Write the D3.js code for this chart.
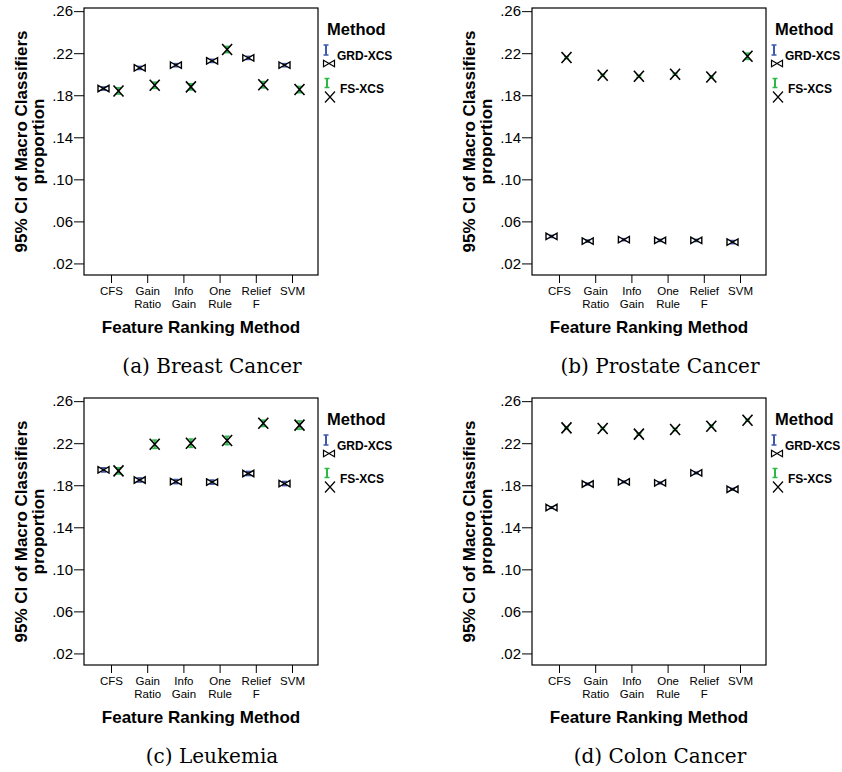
<!DOCTYPE html>
<html>
<head>
<meta charset="utf-8">
<script src="https://cdn.jsdelivr.net/npm/d3@7"></script>
<style>
  body { margin: 0; background: #fff; }
  svg { display: block; }
</style>
</head>
<body>
<div id="chart"></div>
<script>
// categories on the x axis, and the tick labels split into lines
const categories = ['CFS', 'Gain Ratio', 'Info Gain', 'One Rule', 'Relief F', 'SVM'];
const categoryLines = [['CFS'], ['Gain', 'Ratio'], ['Info', 'Gain'], ['One', 'Rule'], ['Relief', 'F'], ['SVM']];
const yTicks = [0.02, 0.06, 0.10, 0.14, 0.18, 0.22, 0.26];
const methods = ['GRD-XCS', 'FS-XCS'];

// means, one value per category
const breastGrd = [0.1864, 0.2060, 0.2086, 0.2127, 0.2155, 0.2086];
const breastFs = [0.1841, 0.1895, 0.1880, 0.2235, 0.1900, 0.1854];
const prostateGrd = [0.0457, 0.0413, 0.0426, 0.0419, 0.0419, 0.0403];
const prostateFs = [0.2159, 0.1990, 0.1980, 0.2000, 0.1974, 0.2171];
const leukemiaGrd = [0.1946, 0.1850, 0.1835, 0.1830, 0.1912, 0.1816];
const leukemiaFs = [0.1937, 0.2190, 0.2200, 0.2226, 0.2389, 0.2372];
const colonGrd = [0.1588, 0.1812, 0.1832, 0.1822, 0.1917, 0.1762];
const colonFs = [0.2346, 0.2340, 0.2286, 0.2330, 0.2362, 0.2419];

// half widths of the 95% CI (estimated, they are tiny)
const breastGrdCi = [0.0015, 0.0015, 0.0015, 0.0015, 0.0015, 0.0015];
const breastFsCi = [0.003, 0.003, 0.003, 0.003, 0.003, 0.003];
const prostateGrdCi = [0.001, 0.001, 0.001, 0.001, 0.001, 0.0015];
const prostateFsCi = [0.001, 0.001, 0.001, 0.001, 0.001, 0.003];
const leukemiaGrdCi = [0.002, 0.002, 0.002, 0.002, 0.002, 0.002];
const leukemiaFsCi = [0.003, 0.004, 0.004, 0.004, 0.003, 0.004];
const colonGrdCi = [0.0008, 0.0008, 0.0008, 0.0008, 0.0008, 0.0008];
const colonFsCi = [0.001, 0.001, 0.001, 0.001, 0.001, 0.001];

const captions = ['(a) Breast Cancer', '(b) Prostate Cancer', '(c) Leukemia', '(d) Colon Cancer'];

const panels = [
  { caption: captions[0], grd: breastGrd, fs: breastFs, grdCi: breastGrdCi, fsCi: breastFsCi, dx: 0, dy: 0 },
  { caption: captions[1], grd: prostateGrd, fs: prostateFs, grdCi: prostateGrdCi, fsCi: prostateFsCi, dx: 448, dy: 0 },
  { caption: captions[2], grd: leukemiaGrd, fs: leukemiaFs, grdCi: leukemiaGrdCi, fsCi: leukemiaFsCi, dx: 0, dy: 390 },
  { caption: captions[3], grd: colonGrd, fs: colonFs, grdCi: colonGrdCi, fsCi: colonFsCi, dx: 448, dy: 390 }
];

const BLUE = '#3e58ac';
const GREEN = '#2eb848';
const SANS = '"Liberation Sans", Arial, sans-serif';
const frame = { left: 84, top: 8, width: 234, height: 267 };

const svg = d3.select('#chart').append('svg')
  .attr('width', 842)
  .attr('height', 772);

const bowtie = 'M-5.5,-3.2 L5.5,3.2 L5.5,-3.2 L-5.5,3.2 Z';
const cross = 'M-5,-5.5 L5,5.5 M-5,5.5 L5,-5.5';

function errorBar(g, x, y1, y2, color) {
  g.append('line').attr('x1', x).attr('x2', x).attr('y1', y1).attr('y2', y2)
    .attr('stroke', color).attr('stroke-width', 2);
  [y1, y2].forEach(yy => {
    g.append('line').attr('x1', x - 2.5).attr('x2', x + 2.5).attr('y1', yy).attr('y2', yy)
      .attr('stroke', color).attr('stroke-width', 1.5);
  });
}

function drawPanel(p) {
  const root = svg.append('g').attr('transform', `translate(${p.dx},${p.dy})`);
  const g = root.append('g').attr('transform', `translate(${frame.left},${frame.top})`);

  const x = d3.scalePoint().domain(categories).range([27, frame.width - 26]);
  const y = d3.scaleLinear().domain([0.009, 0.263]).range([frame.height, 0]);

  g.append('rect')
    .attr('width', frame.width).attr('height', frame.height)
    .attr('fill', '#fff').attr('stroke', '#000').attr('stroke-width', 1.2);

  // y axis
  const yAxis = g.append('g')
    .call(d3.axisLeft(y).tickValues(yTicks).tickSize(10).tickPadding(1)
      .tickFormat(d => d3.format('.2f')(d).replace(/^0/, '')));
  yAxis.select('.domain').remove();
  yAxis.selectAll('text').attr('font-size', 15).attr('fill', '#000').attr('font-family', SANS);
  yAxis.selectAll('line').attr('stroke', '#000');

  // x axis, tick labels on up to two lines
  const xAxis = g.append('g')
    .attr('transform', `translate(0,${frame.height})`)
    .call(d3.axisBottom(x).tickSize(8).tickFormat(''));
  xAxis.select('.domain').remove();
  xAxis.selectAll('line').attr('stroke', '#000');
  xAxis.selectAll('.tick').each(function (d, i) {
    const tick = d3.select(this);
    categoryLines[i].forEach((line, k) => {
      tick.append('text')
        .attr('text-anchor', 'middle')
        .attr('font-family', SANS)
        .attr('font-size', 11.5).attr('fill', '#000')
        .attr('x', 0).attr('y', 19.5 + k * 13)
        .text(line);
    });
  });

  // series
  const off = 7.5;
  categories.forEach((c, i) => {
    const xg = x(c) - off;
    const xf = x(c) + off;
    errorBar(g, xg, y(p.grd[i] + p.grdCi[i]), y(p.grd[i] - p.grdCi[i]), BLUE);
    g.append('path').attr('d', bowtie)
      .attr('transform', `translate(${xg},${y(p.grd[i])})`)
      .attr('fill', 'none').attr('stroke', '#000').attr('stroke-width', 1.4);
    errorBar(g, xf, y(p.fs[i] + p.fsCi[i]), y(p.fs[i] - p.fsCi[i]), GREEN);
    g.append('path').attr('d', cross)
      .attr('transform', `translate(${xf},${y(p.fs[i])})`)
      .attr('fill', 'none').attr('stroke', '#000').attr('stroke-width', 1.6);
  });

  // axis titles
  const cy = frame.top + frame.height / 2;
  [['95% CI of Macro Classifiers', 27], ['proportion', 44]].forEach(([txt, bx]) => {
    root.append('text').attr('transform', `translate(${bx},${cy}) rotate(-90)`)
      .attr('text-anchor', 'middle')
      .attr('font-family', SANS).attr('font-weight', 'bold').attr('font-size', 17)
      .text(txt);
  });
  root.append('text').attr('x', frame.left + frame.width / 2).attr('y', 333)
    .attr('text-anchor', 'middle')
    .attr('font-family', SANS).attr('font-weight', 'bold').attr('font-size', 17)
    .text('Feature Ranking Method');

  // legend
  const lg = root.append('g').attr('font-family', SANS).attr('font-weight', 'bold');
  lg.append('text').attr('x', 327).attr('y', 35).attr('font-size', 16.5).text('Method');
  errorBar(lg, 326, 45, 55, BLUE);
  lg.append('path').attr('d', bowtie).attr('transform', 'translate(329,63.5)')
    .attr('fill', 'none').attr('stroke', '#000').attr('stroke-width', 1.2);
  lg.append('text').attr('x', 337).attr('y', 60).attr('font-size', 12).text(methods[0]);
  errorBar(lg, 327, 78.5, 87.5, GREEN);
  lg.append('path').attr('d', cross).attr('transform', 'translate(330,97)')
    .attr('fill', 'none').attr('stroke', '#000').attr('stroke-width', 1.2);
  lg.append('text').attr('x', 340).attr('y', 92.5).attr('font-size', 12).text(methods[1]);

  // caption
  root.append('text').attr('x', 212).attr('y', 373)
    .attr('text-anchor', 'middle')
    .attr('font-family', '"DejaVu Serif", "Liberation Serif", serif')
    .attr('font-size', 20)
    .text(p.caption);
}

panels.forEach(drawPanel);
</script>
</body>
</html>
